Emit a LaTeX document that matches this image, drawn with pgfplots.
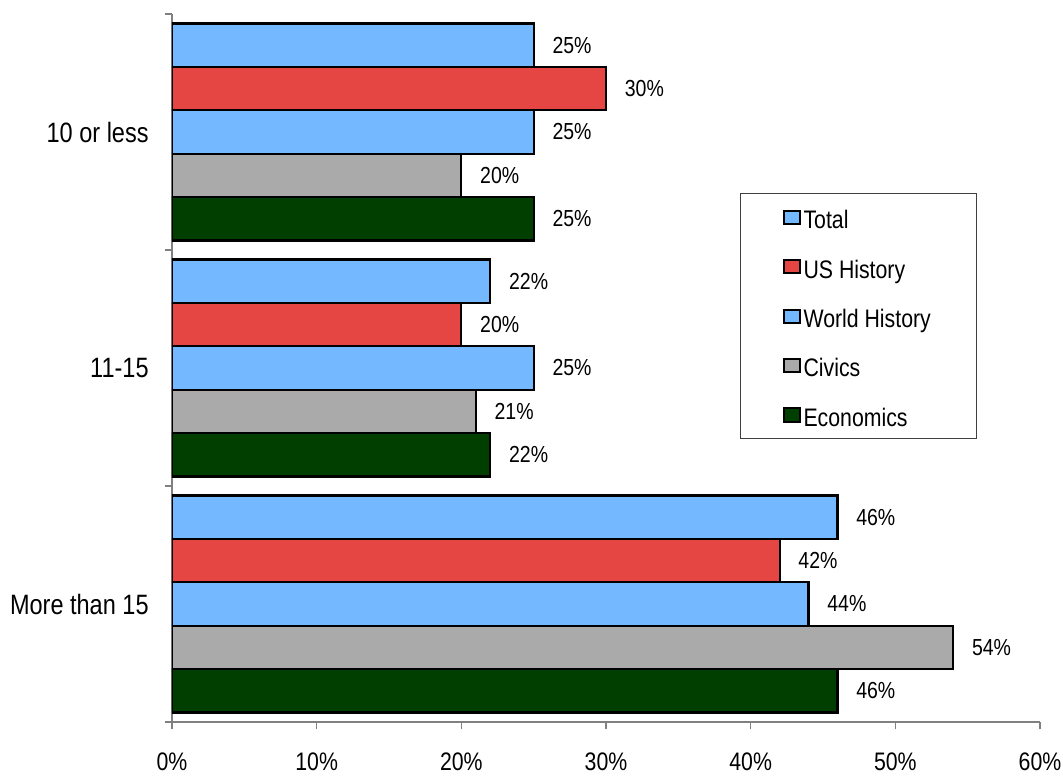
\documentclass[border=0pt]{standalone}
\usepackage{pgfplots}
\pgfplotsset{compat=1.18}
\usepackage{fontspec}
\setmainfont[FakeStretch=0.84]{Liberation Sans}
\definecolor{cBlue}{RGB}{116,185,255}
\definecolor{cRed}{RGB}{229,69,67}
\definecolor{cGray}{RGB}{170,170,170}
\definecolor{cGreen}{RGB}{0,63,0}
\definecolor{cAxis}{RGB}{128,128,128}
\begin{document}
\begin{tikzpicture}
\begin{axis}[
  scale only axis, width=651pt, height=531pt,
  xmin=0, xmax=60, ymin=-0.5, ymax=2.5,
  axis x line*=bottom, axis y line*=left,
  axis line style={-, draw=cAxis, line width=0.8pt},
  every tick/.style={draw=cAxis, line width=0.8pt},
  tick align=outside, major tick length=5.5pt,
  /pgf/number format/assume math mode=true,
  xtick={0,10,...,60},
  xticklabel={\pgfmathprintnumber{\tick}\%},
  xticklabel style={font=\fontsize{19}{22}\selectfont, yshift=-14pt},
  ytick={-0.5,0.5,1.5,2.5}, yticklabels={},
  extra y ticks={0,1,2},
  extra y tick labels={More than 15, 11-15, 10 or less},
  extra y tick style={major tick length=0pt},
  yticklabel style={font=\fontsize{21}{25}\selectfont, xshift=-14pt},
  xbar, bar width=0.184,
  point meta=x,
  nodes near coords={\pgfmathprintnumber{\pgfplotspointmeta}\%},
  nodes near coords style={font=\fontsize{17.4}{20}\selectfont, anchor=west, xshift=10pt, text=black},
  every axis plot/.append style={draw=black, line width=1.6pt},
  legend image code/.code={\draw[#1, draw=black, line width=1.5pt] (0pt,-5pt) rectangle (12pt,5pt);},
  legend cell align=left,
  legend style={at={(rel axis cs:0.654,0.747)}, anchor=north west,
    draw=black!75, line width=0.8pt, font=\fontsize{19}{22}\selectfont,
    inner xsep=32pt, inner ysep=9.2pt, row sep=20.1pt,
    nodes={text height=17pt, text depth=0pt, inner ysep=0pt}},
]
\addplot[fill=cBlue, bar shift=0.368] coordinates {(25,2) (22,1) (46,0)};
\addplot[fill=cRed, bar shift=0.184] coordinates {(30,2) (20,1) (42,0)};
\addplot[fill=cBlue, bar shift=0] coordinates {(25,2) (25,1) (44,0)};
\addplot[fill=cGray, bar shift=-0.184] coordinates {(20,2) (21,1) (54,0)};
\addplot[fill=cGreen, bar shift=-0.368] coordinates {(25,2) (22,1) (46,0)};
\legend{Total, US History, World History, Civics, Economics}
\end{axis}
\pgfresetboundingbox
\useasboundingbox ([xshift=-129pt, yshift=-42pt]current axis.south west) rectangle ([xshift=17.25pt, yshift=10.5pt]current axis.north east);
\end{tikzpicture}
\end{document}
